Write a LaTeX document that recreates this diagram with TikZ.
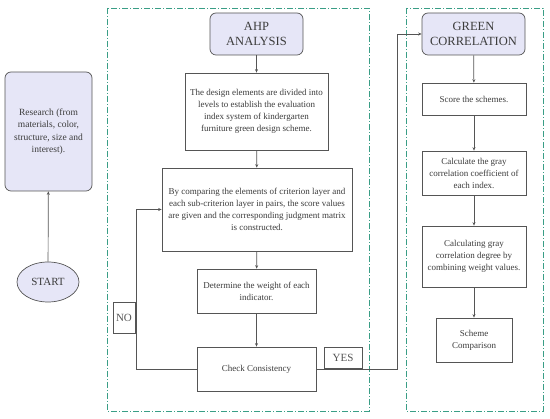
\documentclass[tikz,border=0pt]{standalone}
\usepackage{fontspec}
\setmainfont{Liberation Serif}
\usetikzlibrary{arrows.meta,shapes.geometric}
\begin{document}
\begin{tikzpicture}[x=1pt,y=-1pt]
\definecolor{color0}{HTML}{E6E6F7}
\definecolor{color1}{HTML}{555555}
\definecolor{color2}{HTML}{3A9E86}
\definecolor{color3}{HTML}{3C3C3C}
\tikzset{
  headbox/.style={draw=color1,fill=color0,rounded corners=6pt,line width=0.7pt,align=center,inner sep=0pt,text=color3,font=\fontsize{12.5}{15}\selectfont},
  textbox/.style={draw=color1,fill=white,line width=0.7pt,align=center,inner sep=0pt,text=color3,font=\fontsize{9}{12}\selectfont},
  tagbox/.style={draw=color1,fill=white,line width=0.7pt,align=center,inner sep=0pt,text=color1,font=\fontsize{11}{13}\selectfont},
  flow/.style={color1,line width=0.7pt,-{Stealth[length=3.5pt,width=3pt]}},
  frame/.style={color2,line width=0.8pt,dash pattern=on 6pt off 2pt on 1pt off 2pt}
}
\useasboundingbox (0,0) rectangle (550,419);
% dashed frames
\draw[frame] (107,8) rectangle (369,411);
\draw[frame] (406,8) rectangle (543,411);
% left column
\node[headbox,minimum width=87,minimum height=119,font=\fontsize{9.5}{12.5}\selectfont] (research) at (48.5,131.5) {Research (from\\materials, color,\\structure, size and\\interest).};
\node[headbox,ellipse,minimum width=62,minimum height=40,font=\fontsize{11}{13}\selectfont] (start) at (48,282) {START};
% AHP column
\node[headbox,minimum width=93,minimum height=42] (ahp) at (256.5,34) {AHP\\ANALYSIS};
\node[textbox,minimum width=143,minimum height=77] (divide) at (256.5,111.5) {The design elements are divided into\\levels to establish the evaluation\\index system of kindergarten\\furniture green design scheme.};
\node[textbox,minimum width=190,minimum height=83] (compare) at (257,209.5) {By comparing the elements of criterion layer and\\each sub-criterion layer in pairs, the score values\\are given and the corresponding judgment matrix\\is constructed.};
\node[textbox,minimum width=119,minimum height=44] (weight) at (256.5,291) {Determine the weight of each\\indicator.};
\node[textbox,minimum width=119,minimum height=44] (check) at (256.5,369) {Check Consistency};
\node[tagbox,minimum width=22,minimum height=31] (no) at (124,317.5) {NO};
\node[tagbox,minimum width=38,minimum height=21] (yes) at (343,357.5) {YES};
% green column
\node[headbox,minimum width=103,minimum height=42] (green) at (473.5,34) {GREEN\\CORRELATION};
\node[textbox,minimum width=104,minimum height=32] (score) at (474,99) {Score the schemes.};
\node[textbox,minimum width=104,minimum height=44] (coeff) at (474,173) {Calculate the gray\\correlation coefficient of\\each index.};
\node[textbox,minimum width=104,minimum height=61] (degree) at (474,256.5) {Calculating gray\\correlation degree by\\combining weight values.};
\node[textbox,minimum width=76,minimum height=44] (scheme) at (474,340) {Scheme\\Comparison};
% connectors
\draw[flow] (start) -- (research);
\draw[flow] (ahp) -- (divide);
\draw[flow] (divide) -- (compare);
\draw[flow] (compare) -- (weight);
\draw[flow] (weight) -- (check);
\draw[flow] (check.west) -- ([xshift=-60pt]check.west) |- (compare.west);
\draw[flow] (check.east) -- ([xshift=81pt]check.east) |- (green.west);
\draw[flow] (green) -- (score);
\draw[flow] (score) -- (coeff);
\draw[flow] (coeff) -- (degree);
\draw[flow] (degree) -- (scheme);
\end{tikzpicture}
\end{document}
